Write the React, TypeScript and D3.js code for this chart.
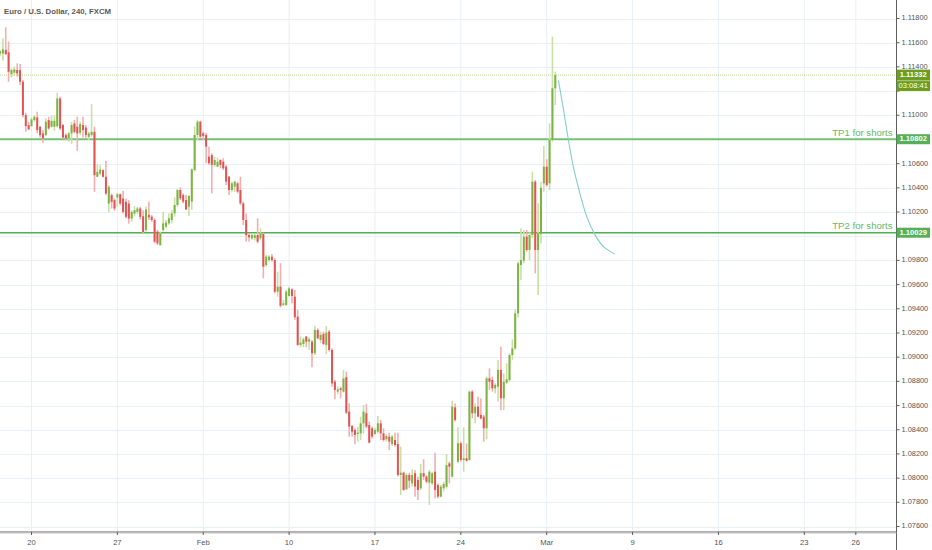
import * as d3 from 'd3';

const title = 'Euro / U.S. Dollar, 240, FXCM';

// bar index of the first 4h bar of each labelled day
const dateTicks = [
  { label: '20', index: 11 },
  { label: '27', index: 41 },
  { label: 'Feb', index: 71 },
  { label: '10', index: 101 },
  { label: '17', index: 131 },
  { label: '24', index: 161 },
  { label: 'Mar', index: 191 },
  { label: '9', index: 221 },
  { label: '16', index: 251 },
  { label: '23', index: 281 },
  { label: '26', index: 299 },
];

const priceTicks = [
  1.076, 1.078, 1.08, 1.082, 1.084, 1.086, 1.088, 1.09, 1.092, 1.094, 1.096,
  1.098, 1.1, 1.102, 1.104, 1.106, 1.108, 1.11, 1.112, 1.114, 1.116, 1.118,
];

// [open, high, low, close], EURUSD 4h
const candles: [number, number, number, number][] = [
  [1.1151, 1.1154, 1.1149, 1.1153], [1.1151, 1.11636, 1.11451, 1.11545], [1.1154, 1.11727, 1.115, 1.11505],
  [1.1152, 1.11609, 1.11277, 1.1136], [1.11341, 1.11388, 1.11313, 1.11374], [1.11352, 1.11402, 1.11324, 1.1138],
  [1.11374, 1.11429, 1.11319, 1.11346], [1.11374, 1.11424, 1.1125, 1.11277], [1.11277, 1.11291, 1.10982, 1.11001],
  [1.11001, 1.11021, 1.10863, 1.1091], [1.10919, 1.10946, 1.10877, 1.10885], [1.1091, 1.10982, 1.10905, 1.10966],
  [1.1096, 1.11001, 1.10946, 1.10988], [1.10982, 1.11029, 1.1085, 1.10877], [1.10905, 1.1091, 1.10816, 1.10836],
  [1.1085, 1.10877, 1.10772, 1.10808], [1.10836, 1.10974, 1.10828, 1.10946], [1.1096, 1.10988, 1.1088, 1.10891],
  [1.10905, 1.10996, 1.10899, 1.10954], [1.10905, 1.11001, 1.10872, 1.10954], [1.1091, 1.11186, 1.10899, 1.11139],
  [1.11139, 1.11153, 1.10877, 1.10891], [1.10919, 1.10927, 1.10808, 1.10816], [1.10836, 1.1085, 1.10794, 1.10808],
  [1.10808, 1.10863, 1.10781, 1.1085], [1.1085, 1.10946, 1.10761, 1.10919], [1.10932, 1.1096, 1.1085, 1.10863],
  [1.10905, 1.10988, 1.10706, 1.1085], [1.10855, 1.10946, 1.10836, 1.10927], [1.10919, 1.10988, 1.10816, 1.10877],
  [1.10899, 1.10919, 1.10808, 1.10836], [1.10822, 1.10863, 1.10794, 1.1085], [1.10836, 1.11092, 1.10822, 1.10863],
  [1.10863, 1.10905, 1.10367, 1.10505], [1.10491, 1.10596, 1.10491, 1.10532], [1.10518, 1.10587, 1.10505, 1.10552],
  [1.10546, 1.10552, 1.10485, 1.10491], [1.10491, 1.10623, 1.10339, 1.10353], [1.1027, 1.10422, 1.10201, 1.10408],
  [1.10339, 1.10353, 1.10229, 1.10284], [1.10298, 1.10311, 1.10209, 1.10229], [1.1032, 1.10358, 1.10242, 1.10347],
  [1.10347, 1.10353, 1.10256, 1.1027], [1.10311, 1.10375, 1.10187, 1.10201], [1.10284, 1.10311, 1.10146, 1.1016],
  [1.1027, 1.10298, 1.10104, 1.10146], [1.10146, 1.10215, 1.10118, 1.10201], [1.10187, 1.10248, 1.10165, 1.10215],
  [1.10201, 1.10242, 1.10182, 1.10229], [1.10229, 1.10242, 1.10138, 1.1016], [1.10165, 1.10215, 1.10022, 1.10035],
  [1.10051, 1.10244, 1.10038, 1.10222], [1.10175, 1.10286, 1.10134, 1.10156], [1.10162, 1.10175, 1.1012, 1.10134],
  [1.10134, 1.10148, 1.09941, 1.09955], [1.10038, 1.10051, 1.09927, 1.09941], [1.09927, 1.10038, 1.09919, 1.10024],
  [1.10051, 1.10203, 1.10038, 1.10106], [1.10079, 1.10134, 1.10065, 1.10112], [1.10106, 1.10189, 1.10093, 1.10148],
  [1.10134, 1.10217, 1.10106, 1.10189], [1.10189, 1.10321, 1.10162, 1.10258], [1.10258, 1.1039, 1.10244, 1.10382],
  [1.10382, 1.10404, 1.10299, 1.10313], [1.10341, 1.10354, 1.10272, 1.10286], [1.10299, 1.10341, 1.10217, 1.10222],
  [1.10244, 1.10341, 1.10167, 1.10332], [1.10286, 1.10561, 1.10217, 1.10553], [1.10547, 1.10906, 1.10534, 1.10837],
  [1.10837, 1.10961, 1.10795, 1.10947], [1.10947, 1.10955, 1.10809, 1.10823], [1.10851, 1.10864, 1.10795, 1.10829],
  [1.10837, 1.10856, 1.10603, 1.1074], [1.10658, 1.1074, 1.10589, 1.10603], [1.10671, 1.10685, 1.10354, 1.10589],
  [1.10589, 1.10658, 1.10575, 1.1063], [1.10575, 1.1065, 1.1057, 1.10616], [1.1063, 1.10636, 1.10561, 1.10589],
  [1.10616, 1.10644, 1.10547, 1.10561], [1.10575, 1.10589, 1.10423, 1.10451], [1.10492, 1.10498, 1.10341, 1.10382],
  [1.10382, 1.10451, 1.10368, 1.10437], [1.1041, 1.10459, 1.10368, 1.10451], [1.10437, 1.10451, 1.10354, 1.10368],
  [1.10382, 1.10492, 1.10258, 1.10272], [1.10272, 1.10286, 1.10093, 1.10134], [1.10134, 1.10189, 1.09955, 1.1001],
  [1.1001, 1.10024, 1.09955, 1.09991], [1.09982, 1.10024, 1.09969, 1.1001], [1.09985, 1.1002, 1.09965, 1.10008],
  [1.1001, 1.10148, 1.09941, 1.09955], [1.09982, 1.10065, 1.09969, 1.10024], [1.10018, 1.10029, 1.09652, 1.09748],
  [1.09762, 1.09845, 1.09748, 1.09831], [1.09803, 1.09845, 1.0979, 1.09831], [1.09831, 1.09853, 1.0979, 1.09803],
  [1.09803, 1.09817, 1.09528, 1.09541], [1.09541, 1.09707, 1.095, 1.09583], [1.09583, 1.09776, 1.09412, 1.09426],
  [1.09432, 1.09473, 1.09423, 1.09445], [1.09432, 1.09556, 1.09423, 1.09542], [1.09506, 1.09583, 1.095, 1.09569],
  [1.09561, 1.09569, 1.09445, 1.09506], [1.095, 1.09556, 1.09308, 1.0933], [1.09335, 1.0939, 1.09093, 1.09101],
  [1.09101, 1.0917, 1.09082, 1.0912], [1.09109, 1.09164, 1.09082, 1.09148], [1.0917, 1.09175, 1.09082, 1.09128],
  [1.09128, 1.09164, 1.0906, 1.09148], [1.09128, 1.09142, 1.08916, 1.09032], [1.09032, 1.09258, 1.09018, 1.09225],
  [1.09225, 1.09239, 1.09148, 1.09156], [1.09142, 1.09211, 1.09115, 1.09184], [1.09192, 1.09211, 1.09101, 1.09109],
  [1.09101, 1.09258, 1.09026, 1.09203], [1.09211, 1.09225, 1.09046, 1.0906], [1.0906, 1.09073, 1.08756, 1.08784],
  [1.08798, 1.08811, 1.08652, 1.08729], [1.08715, 1.08756, 1.08696, 1.08734], [1.08743, 1.08756, 1.0866, 1.08729],
  [1.08715, 1.08894, 1.08707, 1.08825], [1.08834, 1.0888, 1.0853, 1.08541], [1.0855, 1.08619, 1.08343, 1.08426],
  [1.08431, 1.08439, 1.08343, 1.08384], [1.08398, 1.08412, 1.08282, 1.08357], [1.08365, 1.08426, 1.08302, 1.08376],
  [1.0837, 1.08508, 1.08315, 1.08453], [1.08453, 1.08605, 1.0837, 1.0855], [1.08536, 1.08613, 1.08412, 1.08426],
  [1.08439, 1.08467, 1.08288, 1.08293], [1.08412, 1.08426, 1.08329, 1.08343], [1.08365, 1.08417, 1.08357, 1.08398],
  [1.08384, 1.08514, 1.0837, 1.08453], [1.08453, 1.08481, 1.08315, 1.0837], [1.0837, 1.08412, 1.08302, 1.08315],
  [1.08321, 1.08365, 1.08302, 1.08348], [1.08343, 1.08376, 1.08233, 1.08302], [1.08282, 1.08357, 1.08266, 1.08343],
  [1.08315, 1.08376, 1.0826, 1.08274], [1.08282, 1.08376, 1.08012, 1.08026], [1.08026, 1.0826, 1.07861, 1.08045],
  [1.08045, 1.08054, 1.07896, 1.07902], [1.07908, 1.0804, 1.07902, 1.08026], [1.08026, 1.08045, 1.07916, 1.07979],
  [1.07957, 1.08073, 1.0793, 1.08026], [1.0804, 1.08067, 1.07847, 1.0793], [1.07985, 1.08012, 1.07819, 1.07902],
  [1.07916, 1.08117, 1.07902, 1.0804], [1.0804, 1.08156, 1.07985, 1.08012], [1.08012, 1.08026, 1.07957, 1.07971],
  [1.07962, 1.08067, 1.07778, 1.08053], [1.07957, 1.08053, 1.07943, 1.0804], [1.08053, 1.0821, 1.07833, 1.07902],
  [1.07943, 1.07957, 1.07833, 1.07847], [1.07847, 1.07943, 1.07841, 1.07929], [1.07915, 1.07971, 1.07888, 1.07951],
  [1.07929, 1.08199, 1.07915, 1.08108], [1.08122, 1.08136, 1.07957, 1.08095], [1.08012, 1.0864, 1.08006, 1.08591],
  [1.08585, 1.08618, 1.08467, 1.08481], [1.08136, 1.0842, 1.08122, 1.08288], [1.08288, 1.08301, 1.08136, 1.0815],
  [1.0815, 1.0842, 1.08053, 1.08164], [1.08164, 1.08288, 1.08136, 1.08144], [1.0815, 1.08723, 1.08144, 1.08715],
  [1.08715, 1.08729, 1.08494, 1.08536], [1.08536, 1.08618, 1.08453, 1.08591], [1.08591, 1.08673, 1.08503, 1.08508],
  [1.08522, 1.0866, 1.08486, 1.08494], [1.08508, 1.08522, 1.08301, 1.08412], [1.08412, 1.08839, 1.08321, 1.08825],
  [1.08825, 1.08908, 1.08729, 1.08797], [1.08811, 1.08839, 1.08715, 1.08742], [1.08742, 1.08784, 1.08701, 1.0877],
  [1.08756, 1.08977, 1.08632, 1.08894], [1.08894, 1.09087, 1.08563, 1.0866], [1.0866, 1.08866, 1.08563, 1.08797],
  [1.08789, 1.08949, 1.08778, 1.08817], [1.08811, 1.09032, 1.08797, 1.09018], [1.09018, 1.09147, 1.08977, 1.09073],
  [1.09073, 1.09395, 1.09059, 1.09362], [1.09362, 1.0979, 1.09329, 1.09776], [1.09762, 1.10065, 1.09638, 1.09803],
  [1.09798, 1.10051, 1.09776, 1.09996], [1.09996, 1.10051, 1.09872, 1.09886], [1.09886, 1.10038, 1.09803, 1.1001],
  [1.1001, 1.10534, 1.09982, 1.10451], [1.10451, 1.10465, 1.09693, 1.09886], [1.09886, 1.10272, 1.09514, 1.10024],
  [1.10018, 1.1045, 1.09941, 1.104], [1.10437, 1.10746, 1.10368, 1.10575], [1.10575, 1.10636, 1.1041, 1.10423],
  [1.10437, 1.10933, 1.10382, 1.10795], [1.10795, 1.1165, 1.10782, 1.11223], [1.11223, 1.1136, 1.11085, 1.11332],
];

// hand-drawn projection curve
const projIndex = [195.1, 196.8, 198.6, 200.3, 202.6, 205, 207.9, 210.8, 214.9];
const projPrice = [1.11286, 1.11057, 1.10795, 1.10575, 1.10355, 1.10162, 1.10011, 1.09914, 1.09851];

const levels = [
  { label: 'TP1 for shorts', price: 1.10802, width: 2, color: '#73c276' },
  { label: 'TP2 for shorts', price: 1.10029, width: 1.4, color: '#4caf50' },
];

const lastPrice = 1.11332;
const countdown = '03:08:41';

const FONT = "'Liberation Sans', Arial, sans-serif";

export default function App() {
  const width = 932;
  const height = 550;
  const plotRight = 896.5;
  const plotBottom = 532;

  const x = d3.scaleLinear().domain([11, 281]).range([31.5, 804.3]);
  const y = d3.scaleLinear().domain([1.076, 1.118]).range([526.5, 18.5]);

  const proj = d3
    .line<number>()
    .x((_, i) => x(projIndex[i]))
    .y((p) => y(p))
    .curve(d3.curveCatmullRom)(projPrice);

  const fmt = d3.format('.5f');

  const boxX = plotRight;
  const boxW = 33.5;
  const boxH = 10;

  // axis labels that sit behind a price box are hidden, as on the chart
  const boxCentres = [lastPrice, ...levels.map((l) => l.price)].map((p) => y(p));
  boxCentres.push(y(lastPrice) + 11);
  const visibleTicks = priceTicks.filter((p) => boxCentres.every((c) => Math.abs(y(p) - c) > 6));

  return (
    <svg
      width={width}
      height={height}
      style={{ position: 'fixed', left: 0, top: 0, background: '#fff' }}
      fontFamily={FONT}
    >
      <defs>
        <clipPath id="plot">
          <rect x={0} y={0} width={plotRight} height={plotBottom} />
        </clipPath>
      </defs>

      {/* grid */}
      <g stroke="#e8eff6" strokeWidth={1}>
        {priceTicks.map((p) => (
          <line key={p} x1={0} x2={plotRight} y1={Math.round(y(p)) + 0.5} y2={Math.round(y(p)) + 0.5} />
        ))}
        {dateTicks.map((d) => (
          <line key={d.label} x1={x(d.index)} x2={x(d.index)} y1={0} y2={plotBottom} />
        ))}
      </g>

      <g clipPath="url(#plot)">
        {/* last price dotted line */}
        <line
          x1={0}
          x2={plotRight}
          y1={y(lastPrice)}
          y2={y(lastPrice)}
          stroke="#bcd88f"
          strokeWidth={1}
          strokeDasharray="1,1"
        />

        {/* target levels */}
        {levels.map((l) => (
          <line key={l.label} x1={0} x2={plotRight} y1={y(l.price)} y2={y(l.price)} stroke={l.color} strokeWidth={l.width} />
        ))}

        {/* candles */}
        {candles.map(([o, h, l, c], i) => {
          const up = c >= o;
          const cx = x(i);
          const top = y(Math.max(o, c));
          const bot = y(Math.min(o, c));
          return (
            <g key={i}>
              <rect
                x={cx - 0.8}
                y={y(h)}
                width={1.6}
                height={Math.max(0.8, y(l) - y(h))}
                fill={up ? '#c8e0a6' : '#f3afaf'}
              />
              <rect
                x={cx - 1}
                y={top}
                width={2}
                height={Math.max(1, bot - top)}
                fill={up ? '#7cb342' : '#e25454'}
              />
            </g>
          );
        })}

        {/* projection */}
        <path d={proj ?? ''} fill="none" stroke="#84cfc8" strokeWidth={1.1} />

        {/* level captions */}
        {levels.map((l) => (
          <text key={l.label} x={plotRight - 4} y={y(l.price) - 3.5} textAnchor="end" fontSize={9.6} fill="#66b96a">
            {l.label}
          </text>
        ))}
      </g>

      {/* axes */}
      <line x1={plotRight} x2={plotRight} y1={0} y2={height} stroke="#5d5d5d" strokeWidth={1} />
      <line x1={0} x2={plotRight} y1={plotBottom} y2={plotBottom} stroke="#5d5d5d" strokeWidth={1} />
      <line x1={0} x2={plotRight} y1={plotBottom + 1} y2={plotBottom + 1} stroke="#c8c8c8" strokeWidth={1} />

      {priceTicks.map((p) => (
        <line key={p} x1={plotRight} x2={plotRight + 3} y1={y(p)} y2={y(p)} stroke="#5d5d5d" />
      ))}
      {visibleTicks.map((p) => (
        <text key={p} x={plotRight + 5} y={y(p)} dominantBaseline="middle" fontSize={7.4} fill="#555">
          {fmt(p)}
        </text>
      ))}

      {dateTicks.map((d) => (
        <g key={d.label}>
          <line x1={x(d.index)} x2={x(d.index)} y1={plotBottom} y2={plotBottom + 3} stroke="#5d5d5d" />
          <text x={x(d.index)} y={544.5} textAnchor="middle" fontSize={7.6} fill="#555">
            {d.label}
          </text>
        </g>
      ))}

      {/* price boxes */}
      <g fontSize={7.6} fontWeight="bold" fill="#fff">
        <rect x={boxX} y={y(lastPrice) - 5.5} width={boxW} height={boxH + 1} fill="#6c9d1c" />
        <text x={boxX + boxW / 2} y={y(lastPrice)} textAnchor="middle" dominantBaseline="middle">
          {fmt(lastPrice)}
        </text>
        <rect x={boxX} y={y(lastPrice) + 6} width={boxW} height={boxH} fill="#6c9d1c" />
        <text x={boxX + boxW / 2} y={y(lastPrice) + 11} textAnchor="middle" dominantBaseline="middle" fontWeight="normal">
          {countdown}
        </text>
        {levels.map((l) => (
          <g key={l.label}>
            <rect x={boxX} y={y(l.price) - 5} width={boxW} height={boxH} fill="#55b058" />
            <text x={boxX + boxW / 2} y={y(l.price)} textAnchor="middle" dominantBaseline="middle">
              {fmt(l.price)}
            </text>
          </g>
        ))}
      </g>

      {/* title */}
      <text x={4} y={13.5} fontSize={7.8} fontWeight="bold" fill="#5a5a5a">
        {title}
      </text>
    </svg>
  );
}
